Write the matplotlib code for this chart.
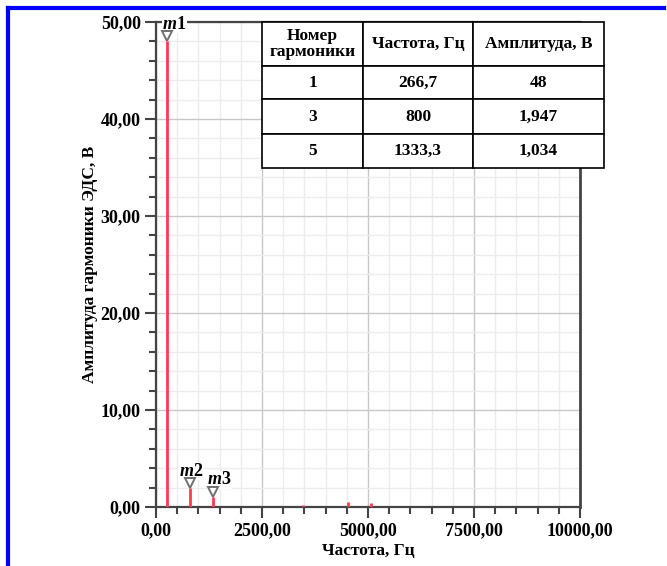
import matplotlib
matplotlib.use('Agg')
from matplotlib import pyplot as plt
from matplotlib.ticker import MultipleLocator, FuncFormatter
from matplotlib.lines import Line2D
import matplotlib.transforms as mtransforms

plt.rcParams['font.family'] = ['Liberation Serif', 'DejaVu Serif']
plt.rcParams['font.weight'] = 'bold'
plt.rcParams['mathtext.fontset'] = 'custom'
plt.rcParams['mathtext.it'] = 'Liberation Serif:italic:bold'
plt.rcParams['mathtext.rm'] = 'Liberation Serif:bold'

# спектр: частоты гармоник (Гц) и амплитуды (В)
freq = [266.7, 800, 1333.3, 3466.7, 4533.3, 5066.7]
ampl = [48, 1.947, 1.034, 0.2, 0.55, 0.38]

# маркеры
mark_names = ['m1', 'm2', 'm3']
mark_freq = [266.7, 800, 1333.3]
mark_ampl = [48, 1.947, 1.034]

# таблица
col_labels = ['Номер\nгармоники', 'Частота, Гц', 'Амплитуда, В']
harm_num = ['1', '3', '5']
harm_freq = ['266,7', '800', '1333,3']
harm_ampl = ['48', '1,947', '1,034']

fig = plt.figure(figsize=(6.67, 5.66), dpi=100)
ax = fig.add_axes([156/667, 1-507/566, 424/667, 485/566])

ax.vlines(freq, 0, ampl, color='#ff3a4c', lw=2, zorder=3)

ax.set_xlim(0, 10000)
ax.set_ylim(0, 50)
ax.xaxis.set_major_locator(MultipleLocator(2500))
ax.xaxis.set_minor_locator(MultipleLocator(500))
ax.yaxis.set_major_locator(MultipleLocator(10))
ax.yaxis.set_minor_locator(MultipleLocator(2))
fmt = FuncFormatter(lambda v, p: f'{v:.2f}'.replace('.', ','))
ax.xaxis.set_major_formatter(fmt)
ax.yaxis.set_major_formatter(fmt)

ax.grid(which='major', color='#c8c8c8', lw=1)
ax.grid(which='minor', color='#ececec', lw=1)
ax.set_axisbelow(True)

for s in ax.spines.values():
    s.set_color('#444444')
    s.set_linewidth(1.6)
ax.spines['right'].set_linewidth(2)

ax.tick_params(which='major', direction='out', length=8, width=1.5, color='#444444', labelsize=13, pad=3)
ax.tick_params(which='minor', direction='out', length=5, width=1.5, color='#444444')

ax.set_xlabel('Частота, Гц', fontsize=12.5, fontweight='bold', labelpad=3)
ax.set_ylabel('Амплитуда гармоники ЭДС, В', fontsize=12.5, fontweight='bold', labelpad=2)

# маркеры-треугольники чуть выше вершин
up = mtransforms.offset_copy(ax.transData, fig=fig, x=0, y=5, units='dots')
ax.plot(mark_freq, mark_ampl, 'v', ms=7, mfc='white', mec='#707070', mew=1.4,
        transform=up, zorder=6, clip_on=False)
label_dx = [7, 1, 7]
for name, f, a, dx in zip(mark_names, mark_freq, mark_ampl, label_dx):
    ax.annotate(f'${name[0]}$' + name[1:], xy=(f, a), xytext=(dx, 17),
                textcoords='offset pixels', ha='center', va='center',
                fontsize=13, fontweight='bold', zorder=5,
                bbox=dict(fc='white', ec='none', pad=0.2), annotation_clip=False)

# таблица гармоник
rows = [list(r) for r in zip(harm_num, harm_freq, harm_ampl)]
tab = ax.table(cellText=rows, colLabels=col_labels, cellLoc='center',
               colWidths=[101, 110, 131],
               bbox=[(262-156)/424, (507-168)/485, (604-262)/424, 146/485])
tab.auto_set_font_size(False)
tab.set_zorder(7)
heights = [44, 33, 35, 34]
for (r, c), cell in tab.get_celld().items():
    cell.set_height(heights[r])
    cell.set_linewidth(1.2)
    cell.set_edgecolor('black')
    cell.set_facecolor('white')
    cell.get_text().set_fontsize(12.5)
    cell.get_text().set_fontweight('bold')
    cell.get_text().set_linespacing(0.95)

# синяя рамка слева и сверху
fig.add_artist(Line2D([8/667, 8/667], [0, 1-8/566], color='#0000ff', lw=3))
fig.add_artist(Line2D([8/667, 664/667], [1-8/566, 1-8/566], color='#0000ff', lw=3))

fig.savefig('out.png', dpi=100)
